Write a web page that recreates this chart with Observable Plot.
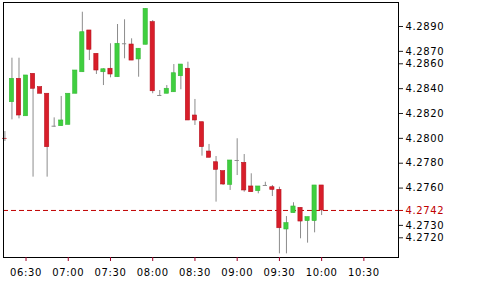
<!DOCTYPE html>
<html>
<head>
<meta charset="utf-8">
<script src="https://cdn.jsdelivr.net/npm/d3@7"></script>
<script src="https://cdn.jsdelivr.net/npm/@observablehq/plot@0.6"></script>
<style>
  html, body { margin: 0; padding: 0; background: #fff; }
  #chart svg text { letter-spacing: 0.6px; }
</style>
</head>
<body>
<div id="chart"></div>
<script>
const times = ["06:15","06:20","06:25","06:30","06:35","06:40","06:45","06:50","06:55",
  "07:00","07:05","07:10","07:15","07:20","07:25","07:30","07:35","07:40","07:45","07:50","07:55",
  "08:00","08:05","08:10","08:15","08:20","08:25","08:30","08:35","08:40","08:45","08:50","08:55",
  "09:00","09:05","09:10","09:15","09:20","09:25","09:30","09:35","09:40","09:45","09:50","09:55","10:00"];
const open  = [4.27997,4.28291,4.28479,4.28178,4.28519,4.28412,4.28359,4.28098,4.28098,
  4.28109,4.28359,4.28532,4.28868,4.28680,4.28532,4.28560,4.28492,4.28761,4.28755,4.28635,4.28753,
  4.28935,4.28345,4.28359,4.28371,4.28500,4.28560,4.28184,4.28130,4.27894,4.27808,4.27736,4.27626,
  4.27822,4.27803,4.27613,4.27575,4.27621,4.27607,4.27586,4.27267,4.27398,4.27441,4.27334,4.27334,4.27621];
const high  = [4.28055,4.28645,4.28645,4.28506,4.28519,4.28412,4.28359,4.28165,4.28337,
  4.28359,4.28546,4.29015,4.28868,4.28680,4.28560,4.28761,4.28916,4.28954,4.28801,4.28721,4.29042,
  4.28948,4.28385,4.28425,4.28594,4.28594,4.28613,4.28313,4.28130,4.27951,4.27854,4.27736,4.27822,
  4.27997,4.27870,4.27715,4.27613,4.27647,4.27621,4.27607,4.27371,4.27482,4.27441,4.27366,4.27621,4.27621];
const low   = [4.27975,4.28149,4.28157,4.28178,4.27688,4.28359,4.27688,4.28090,4.28098,
  4.28109,4.28359,4.28532,4.28626,4.28514,4.28425,4.28487,4.28492,4.28640,4.28626,4.28492,4.28753,
  4.28359,4.28339,4.28359,4.28371,4.28391,4.28144,4.28104,4.27857,4.27844,4.27487,4.27621,4.27581,
  4.27701,4.27567,4.27567,4.27554,4.27613,4.27532,4.27071,4.27071,4.27398,4.27192,4.27157,4.27240,4.27379];
const close = [4.27995,4.28479,4.28184,4.28506,4.28399,4.28359,4.27929,4.28098,4.28144,
  4.28359,4.28546,4.28854,4.28713,4.28546,4.28556,4.28514,4.28761,4.28761,4.28626,4.28721,4.29042,
  4.28379,4.28345,4.28399,4.28524,4.28594,4.28144,4.28144,4.27929,4.27844,4.27747,4.27629,4.27822,
  4.27822,4.27581,4.27567,4.27613,4.27621,4.27586,4.27277,4.27318,4.27452,4.27331,4.27366,4.27621,4.2742];

const priceTicks = [4.2890, 4.2870, 4.2860, 4.2840, 4.2820, 4.2800, 4.2780, 4.2760, 4.2730, 4.2720];
const currentPrice = 4.2742;
const timeTicks = ["06:30","07:00","07:30","08:00","08:30","09:00","09:30","10:00","10:30"];
const xStart = "06:14:00", xEnd = "10:54:36";
const yMin = 4.270416, yMax = 4.290931;

const T = s => { const [h, m, sec] = s.split(":").map(Number); return new Date(Date.UTC(2020, 0, 1, h, m, sec || 0)); };
const halfBody = 1.5 * 60 * 1000;

const candles = times.map((t, i) => ({
  t: T(t), t1: new Date(+T(t) - halfBody), t2: new Date(+T(t) + halfBody),
  o: open[i], h: high[i], l: low[i], c: close[i],
  dir: close[i] > open[i] ? "up" : close[i] < open[i] ? "down" : "flat"
}));

const upFill = "#3fcf3f", downFill = "#d81e2a", wick = "#8c8c8c";

const chart = Plot.plot({
  width: 486,
  height: 281,
  marginLeft: 3,
  marginRight: 88,
  marginTop: 2,
  marginBottom: 24,
  style: { fontFamily: "DejaVu Sans", fontSize: "10px", background: "white", color: "black" },
  x: { type: "utc", domain: [T(xStart), T(xEnd)], axis: null },
  y: { domain: [yMin, yMax], axis: null },
  marks: [
    Plot.ruleY([currentPrice], { stroke: "#c00000", strokeDasharray: "5,3" }),
    Plot.ruleX(candles, { x: "t", y1: "l", y2: "h", stroke: wick }),
    Plot.rect(candles.filter(d => d.dir !== "flat"), {
      x1: "t1", x2: "t2", y1: "o", y2: "c",
      fill: d => d.dir === "up" ? upFill : downFill,
      stroke: d => d.dir === "up" ? "#36b836" : "#b8121e",
      strokeWidth: 0.6
    }),
    Plot.ruleY(candles.filter(d => d.dir === "flat"), { y: "c", x1: "t1", x2: "t2", stroke: wick }),
    Plot.frame({ stroke: "black" }),
    Plot.axisY(priceTicks, {
      anchor: "right", tickSize: 4, tickPadding: 3,
      tickFormat: d => d.toFixed(4), stroke: "#222", fill: "black", textAnchor: "start"
    }),
    Plot.axisY([currentPrice], {
      anchor: "right", tickSize: 4, tickPadding: 3,
      tickFormat: d => d.toFixed(4), stroke: "#c00000", fill: "#c00000", textAnchor: "start"
    }),
    Plot.axisX(timeTicks.map(T), {
      anchor: "bottom", tickSize: 4, tickPadding: 7,
      tickFormat: d3.utcFormat("%H:%M"), stroke: "#a0002a", fill: "black"
    })
  ]
});
document.getElementById("chart").appendChild(chart);
</script>
</body>
</html>
